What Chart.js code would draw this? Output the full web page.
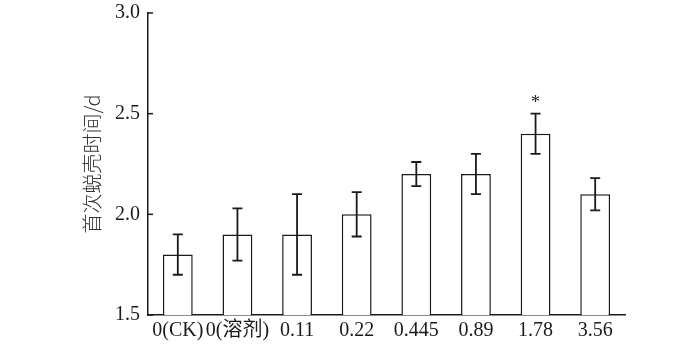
<!DOCTYPE html>
<html>
<head>
<meta charset="utf-8">
<script src="https://cdn.jsdelivr.net/npm/chart.js@4"></script>
<style>
  html, body { margin: 0; padding: 0; background: #fff; }
  #wrap { width: 700px; height: 350px; }
</style>
</head>
<body>
<div id="wrap"><canvas id="molt"></canvas></div>
<script>
const doses = ['0(CK)', '0(溶剂)', '0.11', '0.22', '0.445', '0.89', '1.78', '3.56'];
const moltDays = [1.8, 1.9, 1.9, 2.0, 2.2, 2.2, 2.4, 2.1];
const moltErr = [0.1, 0.13, 0.2, 0.11, 0.06, 0.1, 0.1, 0.08];
const marks = ['', '', '', '', '', '', '*', ''];
const yTicks = [1.5, 2.0, 2.5, 3.0];

const ink = '#1a1a1a';
const serif = "'Liberation Serif', 'Noto Sans CJK SC', serif";

// error bars, inward y ticks and significance marks
const extras = {
    id: 'extras',
    afterDatasetsDraw(chart) {
        const ctx = chart.ctx;
        const x = chart.scales.x;
        const y = chart.scales.y;
        ctx.save();
        ctx.strokeStyle = ink;
        ctx.lineWidth = 1.8;
        moltDays.forEach(function (v, i) {
            const cx = x.getPixelForValue(i);
            const top = y.getPixelForValue(v + moltErr[i]);
            const bot = y.getPixelForValue(v - moltErr[i]);
            ctx.beginPath();
            ctx.moveTo(cx, top); ctx.lineTo(cx, bot);
            ctx.moveTo(cx - 5, top); ctx.lineTo(cx + 5, top);
            ctx.moveTo(cx - 5, bot); ctx.lineTo(cx + 5, bot);
            ctx.stroke();
            if (marks[i]) {
                ctx.fillStyle = ink;
                ctx.font = '18px ' + serif;
                ctx.textAlign = 'center';
                ctx.textBaseline = 'bottom';
                ctx.fillText(marks[i], cx, top - 1);
            }
        });
        ctx.lineWidth = 1.5;
        yTicks.forEach(function (t) {
            const py = y.getPixelForValue(t);
            ctx.beginPath();
            ctx.moveTo(chart.chartArea.left, py);
            ctx.lineTo(chart.chartArea.left + 5, py);
            ctx.stroke();
        });
        ctx.restore();
    }
};

new Chart(document.getElementById('molt').getContext('2d'), {
    type: 'bar',
    data: {
        labels: doses,
        datasets: [{
            data: moltDays,
            backgroundColor: '#ffffff',
            borderColor: ink,
            borderWidth: 1.5,
            borderSkipped: false,
            categoryPercentage: 1.0,
            barPercentage: 0.5
        }]
    },
    options: {
        responsive: true,
        maintainAspectRatio: false,
        animation: false,
        layout: { padding: { left: 80, right: 75, top: 13, bottom: 0 } },
        plugins: { legend: { display: false }, tooltip: { enabled: false } },
        scales: {
            x: {
                grid: { display: false, drawTicks: false },
                border: { display: true, color: ink, width: 1.5 },
                ticks: { color: ink, padding: 4, font: { family: serif, size: 20 }, maxRotation: 0, autoSkip: false },
                afterFit: function (s) { s.height = 35; s.paddingLeft = 0; s.paddingRight = 0; }
            },
            y: {
                min: 1.5,
                max: 3.0,
                afterBuildTicks: function (s) { s.ticks = yTicks.map(function (v) { return { value: v }; }); },
                grid: { display: false, drawTicks: false },
                border: { display: true, color: ink, width: 1.5 },
                ticks: {
                    color: ink,
                    padding: 8,
                    font: { family: serif, size: 20 },
                    callback: function (v) { return Number(v).toFixed(1); }
                },
                title: {
                    display: true,
                    text: '首次蜕壳时间/d',
                    color: '#333',
                    padding: 0,
                    font: { family: "'Noto Sans CJK SC', sans-serif", size: 20, weight: '300' }
                },
                afterFit: function (s) { s.width = 68; s.paddingTop = 0; s.paddingBottom = 0; }
            }
        }
    },
    plugins: [extras]
});
</script>
</body>
</html>
